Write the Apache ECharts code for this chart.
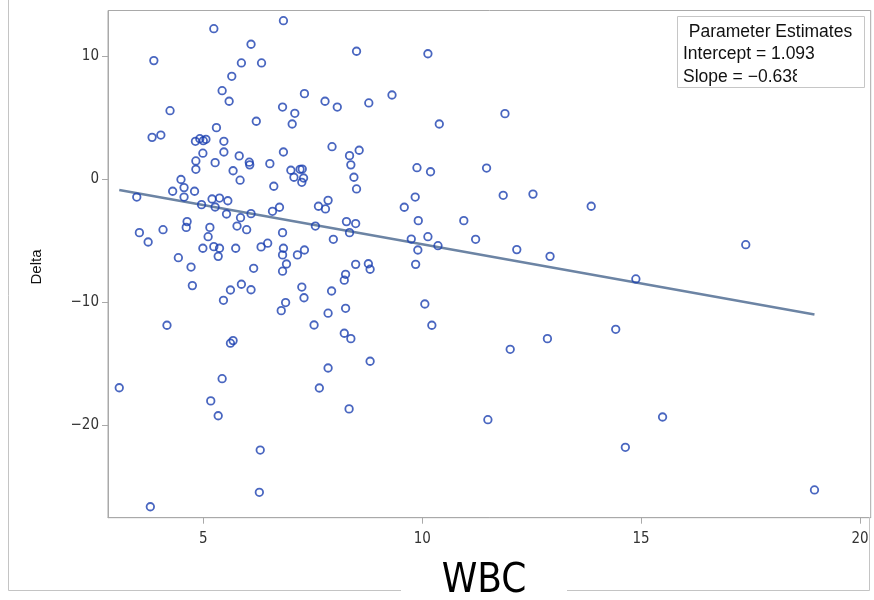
<!DOCTYPE html>
<html>
<head>
<meta charset="utf-8">
<script src="https://cdn.jsdelivr.net/npm/echarts@6/dist/echarts.min.js"></script>
<style>
  html, body { margin: 0; padding: 0; background: #fff; }
  #chart { width: 874px; height: 600px; }
</style>
</head>
<body>
<div id="chart"></div>
<script>
// ---- data ----
var wbc = [
  5.24,6.83,6.09,3.87,5.87,6.33,5.65,5.43,5.59,6.81,
  4.24,6.21,5.30,3.83,4.03,4.82,4.92,5.00,5.06,5.47,
  4.99,5.47,5.82,6.83,4.83,5.27,6.05,6.06,6.52,4.83,
  5.68,4.49,5.84,6.61,3.48,4.30,4.56,4.56,4.80,4.96,
  5.20,5.37,5.56,5.27,5.53,5.85,6.09,6.58,6.74,3.54,
  3.74,4.08,4.63,4.61,5.15,5.11,5.77,5.99,6.81,4.99,
  5.24,5.37,5.34,5.74,6.32,6.47,6.83,6.81,4.43,4.72,
  6.15,6.81,4.75,5.62,5.87,6.09,5.46,6.88,6.78,4.17,
  5.68,5.62,6.90,8.50,10.13,7.31,7.78,8.06,8.78,9.31,
  7.09,7.03,10.39,7.94,8.34,8.56,8.37,9.88,10.19,7.00,
  7.21,7.26,7.07,7.29,8.44,7.25,8.50,7.63,7.85,7.79,
  9.84,9.59,7.56,8.27,8.48,8.34,7.97,9.91,9.75,10.13,
  10.36,9.90,7.15,7.31,8.48,8.77,8.81,8.25,8.22,9.85,
  7.25,7.30,7.93,7.85,8.25,10.06,7.53,8.22,8.37,10.22,
  5.43,3.08,5.17,5.34,6.30,6.28,3.79,7.85,8.81,7.65,
  8.33,11.89,11.47,11.85,12.53,13.86,10.95,11.22,12.16,12.92,
  17.39,14.88,14.42,12.86,12.01,11.50,15.49,14.64,18.96
];
var delta = [
  12.27,12.92,11.00,9.67,9.48,9.48,8.39,7.22,6.36,5.89,
  5.59,4.73,4.21,3.42,3.61,3.10,3.31,3.15,3.26,3.10,
  2.13,2.23,1.91,2.23,1.50,1.36,1.40,1.18,1.28,0.82,
  0.70,-0.01,-0.07,-0.56,-1.44,-0.97,-0.67,-1.44,-0.97,-2.06,
  -1.60,-1.52,-1.74,-2.25,-2.82,-3.12,-2.79,-2.60,-2.27,-4.34,
  -5.10,-4.10,-3.44,-3.91,-3.91,-4.67,-3.80,-4.10,-4.34,-5.61,
  -5.48,-5.61,-6.27,-5.61,-5.50,-5.20,-5.61,-6.15,-6.38,-7.14,
  -7.24,-7.48,-8.65,-9.01,-8.54,-8.99,-9.85,-10.03,-10.69,-11.88,
  -13.13,-13.34,-6.89,10.43,10.23,6.98,6.36,5.89,6.22,6.87,
  5.38,4.51,4.51,2.66,1.93,2.37,1.18,0.95,0.62,0.74,
  0.82,0.84,0.17,0.11,0.17,-0.24,-0.78,-2.19,-1.71,-2.41,
  -1.44,-2.27,-3.80,-3.44,-3.60,-4.34,-4.88,-3.36,-4.86,-4.67,
  -5.40,-5.75,-6.15,-5.75,-6.92,-6.87,-7.32,-7.73,-8.21,-6.92,
  -8.77,-9.64,-9.09,-10.90,-10.50,-10.15,-11.86,-12.53,-12.97,-11.88,
  -16.23,-16.97,-18.04,-19.25,-22.04,-25.48,-26.66,-15.36,-14.81,-16.99,
  -18.69,5.35,0.92,-1.30,-1.20,-2.19,-3.36,-4.88,-5.72,-6.27,
  -5.32,-8.11,-12.21,-12.97,-13.84,-19.57,-19.35,-21.82,-25.29
];
// fitted regression line endpoints
var fitX = [3.08, 18.96];
var fitY = [-0.87, -11.0];
var xTicks = [5, 10, 15, 20];
var yTicks = [-20, -10, 0, 10];
var xTitle = 'WBC';
var yTitle = 'Delta';
var legendTitle = 'Parameter Estimates';
var legendLines = ['Intercept = 1.093', 'Slope = \u22120.638'];

// ---- build ----
var points = wbc.map(function (x, i) { return [x, delta[i]]; });
var fitLine = fitX.map(function (x, i) { return [x, fitY[i]]; });

var chart = echarts.init(document.getElementById('chart'), null, { renderer: 'canvas' });
var frameColor = '#a9a9a9';
var tickFont = '"Liberation Sans Narrow", "DejaVu Sans Condensed", "Liberation Sans", sans-serif';
var textFont = '"Liberation Sans", Arial, sans-serif';
function fmt(v) { return String(v).replace('-', '\u2212'); }

chart.setOption({
  animation: false,
  backgroundColor: '#ffffff',
  grid: {
    left: 108, right: 3.3, top: 10.5, bottom: 82.3,
    show: true, borderColor: frameColor, borderWidth: 1,
    backgroundColor: 'transparent',
    outerBoundsMode: 'none', containLabel: false
  },
  xAxis: {
    type: 'value', min: 2.823, max: 20.244,
    axisLine: { show: true, onZero: false, lineStyle: { color: frameColor, width: 1 } },
    axisTick: { show: true, length: 6, customValues: xTicks, lineStyle: { color: frameColor } },
    axisLabel: { customValues: xTicks, margin: 14, fontSize: 15, color: '#333', fontFamily: tickFont, formatter: fmt },
    splitLine: { show: false }
  },
  yAxis: {
    type: 'value', min: -27.55, max: 13.75,
    axisLine: { show: true, onZero: false, lineStyle: { color: frameColor, width: 1 } },
    axisTick: { show: true, length: 6, customValues: yTicks, lineStyle: { color: frameColor } },
    axisLabel: { customValues: yTicks, margin: 9, fontSize: 15, color: '#333', fontFamily: tickFont, formatter: fmt },
    splitLine: { show: false }
  },
  series: [
    {
      type: 'scatter',
      data: points,
      symbol: 'circle',
      symbolSize: 7.5,
      itemStyle: { color: 'rgba(255,255,255,0)', borderColor: '#1b40b0', borderWidth: 1.8 },
      z: 3
    },
    {
      type: 'line',
      data: fitLine,
      symbol: 'none',
      lineStyle: { color: '#6c84a4', width: 2.5 },
      z: 2
    }
  ],
  graphic: [
    // outer frame
    { type: 'polyline', shape: { points: [[8.5, 0], [8.5, 590.5], [869.5, 590.5], [869.5, 517]] },
      style: { stroke: '#c4c4c4', lineWidth: 1, fill: null }, silent: true, z: 1 },
    // white patch behind x title
    { type: 'rect', shape: { x: 401, y: 559, width: 166, height: 41 },
      style: { fill: '#ffffff' }, silent: true, z: 2 },
    { type: 'text', x: 484, y: 582, z: 3,
      style: { text: xTitle, font: '40px "Liberation Sans Narrow", "DejaVu Sans Condensed", sans-serif',
               fill: '#000', align: 'center', verticalAlign: 'middle' } },
    { type: 'text', x: 37, y: 267, rotation: Math.PI / 2, z: 3,
      style: { text: yTitle, font: '15px ' + textFont, fill: '#111', align: 'center', verticalAlign: 'middle' } },
    // inset legend
    { type: 'rect', shape: { x: 677.5, y: 16.5, width: 187, height: 71 },
      style: { fill: '#ffffff', stroke: '#c6c6c6', lineWidth: 1 }, z: 10 },
    { type: 'text', x: 770.5, y: 32, z: 11,
      style: { text: legendTitle, font: '17.5px ' + textFont, fill: '#111', align: 'center', verticalAlign: 'middle' } },
    { type: 'text', x: 683, y: 54.5, z: 11,
      style: { text: legendLines[0], font: '17.5px ' + textFont, fill: '#111', align: 'left', verticalAlign: 'middle' } },
    { type: 'text', x: 683, y: 77, z: 11,
      style: { text: legendLines[1], font: '17.5px ' + textFont, fill: '#111', align: 'left', verticalAlign: 'middle' } },
    { type: 'rect', shape: { x: 797, y: 66, width: 60, height: 20 },
      style: { fill: '#ffffff' }, silent: true, z: 12 }
  ]
});
</script>
</body>
</html>
